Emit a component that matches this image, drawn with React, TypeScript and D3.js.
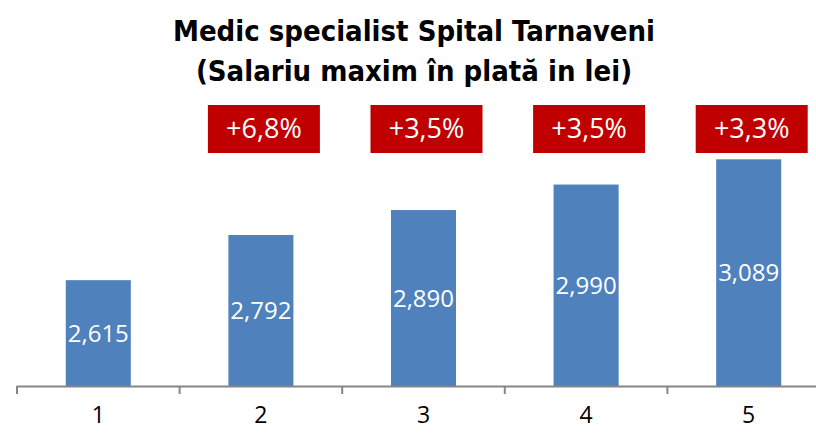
import { useRef, useEffect } from 'react';
import * as d3 from 'd3';

const categories = ['1', '2', '3', '4', '5'];
const salaries = [2615, 2792, 2890, 2990, 3089];
const growthLabels = ['', '+6,8%', '+3,5%', '+3,5%', '+3,3%'];
const titleLines = ['Medic specialist Spital Tarnaveni', '(Salariu maxim în plată in lei)'];

export default function App() {
  const svgRef = useRef<SVGSVGElement>(null);
  const width = 816;
  const height = 437;

  useEffect(() => {
    const svg = d3.select(svgRef.current);
    svg.selectAll('*').remove();

    const x = d3
      .scaleBand()
      .domain(categories)
      .range([17, 830])
      .paddingInner(0.6)
      .paddingOuter(0.3);

    const y = d3.scaleLinear().domain([2200, 3200]).range([386, 131]);
    const step = x.step();

    // title
    svg
      .selectAll('text.title')
      .data(titleLines)
      .join('text')
      .attr('class', 'title')
      .attr('x', 414)
      .attr('y', (d, i) => 41 + i * 40)
      .attr('text-anchor', 'middle')
      .attr('font-family', '"DejaVu Sans Condensed", "DejaVu Sans", sans-serif')
      .attr('font-weight', 'bold')
      .attr('font-size', 29)
      .attr('fill', '#000')
      .text((d) => d);

    // bars
    const bars = svg
      .selectAll('g.bar')
      .data(salaries)
      .join('g')
      .attr('class', 'bar');

    bars
      .append('rect')
      .attr('x', (d, i) => x(categories[i]) as number)
      .attr('y', (d) => y(d))
      .attr('width', x.bandwidth())
      .attr('height', (d) => y(2200) - y(d))
      .attr('fill', '#4F81BD');

    bars
      .append('text')
      .attr('x', (d, i) => (x(categories[i]) as number) + x.bandwidth() / 2)
      .attr('y', (d) => (y(d) + y(2200)) / 2)
      .attr('dy', '0.36em')
      .attr('text-anchor', 'middle')
      .attr('font-family', '"Open Sans", sans-serif')
      .attr('font-size', 24)
      .attr('fill', '#fff')
      .text((d) => d3.format(',')(d));

    // growth boxes
    const boxes = svg
      .selectAll('g.growth')
      .data(growthLabels.map((g, i) => ({ g, i })).filter((d) => d.g !== ''))
      .join('g')
      .attr('class', 'growth')
      .attr('transform', (d) => `translate(${(x(categories[d.i]) as number) + x.bandwidth() / 2 + 3},105)`);

    boxes
      .append('rect')
      .attr('x', -56)
      .attr('y', 0)
      .attr('width', 112)
      .attr('height', 48)
      .attr('fill', '#C00000');

    boxes
      .append('text')
      .attr('x', 0)
      .attr('y', 23)
      .attr('dy', '0.36em')
      .attr('text-anchor', 'middle')
      .attr('font-family', '"Open Sans", sans-serif')
      .attr('font-size', 27)
      .attr('fill', '#fff')
      .text((d) => d.g);

    // axis
    svg
      .append('line')
      .attr('x1', 17)
      .attr('x2', width)
      .attr('y1', 386.5)
      .attr('y2', 386.5)
      .attr('stroke', '#868686')
      .attr('stroke-width', 2);

    svg
      .selectAll('line.tick')
      .data(d3.range(categories.length + 1))
      .join('line')
      .attr('class', 'tick')
      .attr('x1', (i) => 17 + i * step)
      .attr('x2', (i) => 17 + i * step)
      .attr('y1', 386)
      .attr('y2', 394)
      .attr('stroke', '#868686')
      .attr('stroke-width', 2);

    svg
      .selectAll('text.cat')
      .data(categories)
      .join('text')
      .attr('class', 'cat')
      .attr('x', (d) => (x(d) as number) + x.bandwidth() / 2)
      .attr('y', 423)
      .attr('text-anchor', 'middle')
      .attr('font-family', '"Open Sans", sans-serif')
      .attr('font-size', 23)
      .attr('fill', '#000')
      .text((d) => d);
  }, []);

  return (
    <svg
      ref={svgRef}
      width={width}
      height={height}
      style={{ position: 'absolute', left: 0, top: 0, background: '#fff' }}
    />
  );
}
